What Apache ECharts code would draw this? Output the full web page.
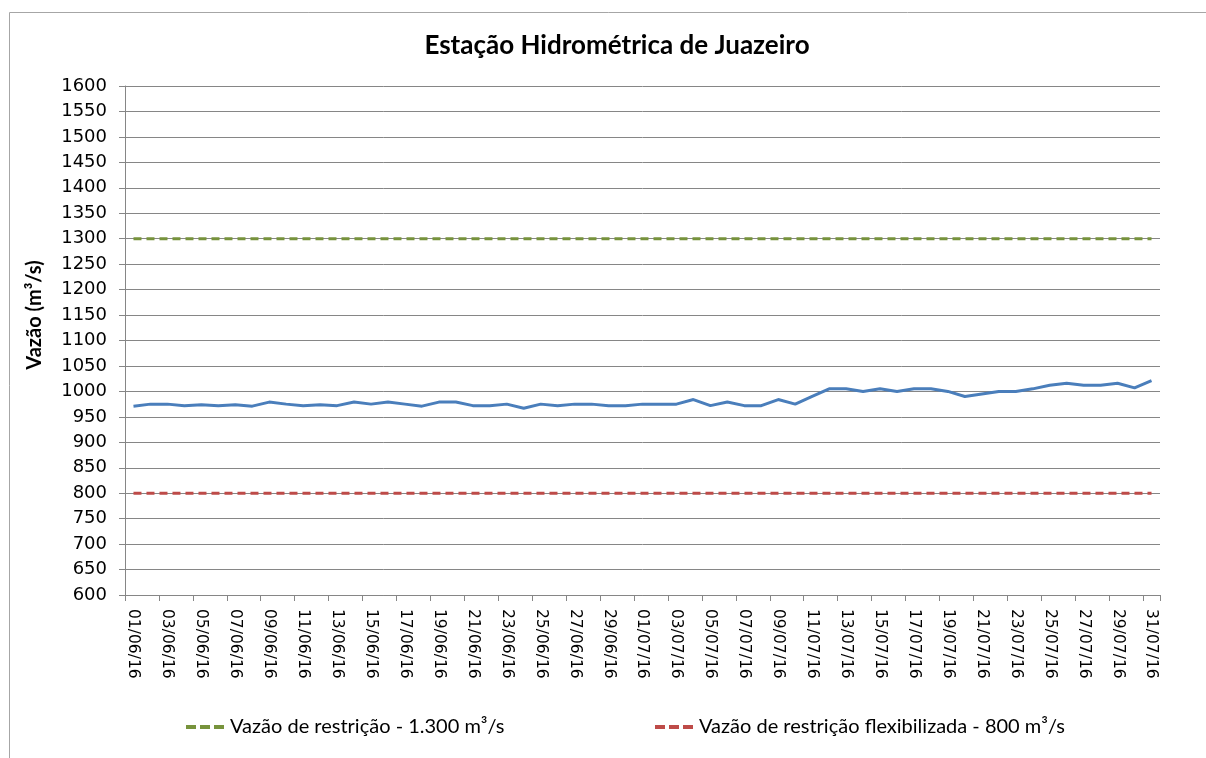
<!DOCTYPE html>
<html>
<head>
<meta charset="utf-8">
<script src="https://cdn.jsdelivr.net/npm/echarts@6/dist/echarts.min.js"></script>
<style>
html,body{margin:0;padding:0;background:#fff;}
#c{width:1206px;height:758px;}
</style>
</head>
<body>
<div id="c"></div>
<script>
var categories = ['01/06/16','02/06/16','03/06/16','04/06/16','05/06/16','06/06/16','07/06/16','08/06/16','09/06/16','10/06/16',
'11/06/16','12/06/16','13/06/16','14/06/16','15/06/16','16/06/16','17/06/16','18/06/16','19/06/16','20/06/16',
'21/06/16','22/06/16','23/06/16','24/06/16','25/06/16','26/06/16','27/06/16','28/06/16','29/06/16','30/06/16',
'01/07/16','02/07/16','03/07/16','04/07/16','05/07/16','06/07/16','07/07/16','08/07/16','09/07/16','10/07/16',
'11/07/16','12/07/16','13/07/16','14/07/16','15/07/16','16/07/16','17/07/16','18/07/16','19/07/16','20/07/16',
'21/07/16','22/07/16','23/07/16','24/07/16','25/07/16','26/07/16','27/07/16','28/07/16','29/07/16','30/07/16','31/07/16'];

var vazao = [971,975,975,972,974,972,974,971,979,975,
972,974,972,979,975,979,975,971,979,979,
972,972,975,967,975,972,975,975,972,972,
975,975,975,984,972,979,972,972,984,975,
990,1005,1005,1000,1005,1000,1005,1005,1000,990,
995,1000,1000,1005,1012,1016,1012,1012,1016,1007,1021];

var restricao = categories.map(function(){return 1300;});
var restricaoFlex = categories.map(function(){return 800;});

var nameRestricao = 'Vazão de restrição - 1.300 m³/s';
var nameFlex = 'Vazão de restrição flexibilizada - 800 m³/s';
var titleText = 'Estação Hidrométrica de Juazeiro';
var yName = 'Vazão (m³/s)';

var dashIcon = 'path://M0,0h10v4h-10z M14,0h10v4h-10z M28,0h10v4h-10z';

var chart = echarts.init(document.getElementById('c'));
chart.setOption({
  animation:false,
  backgroundColor:'#fff',
  title:{text:titleText,left:612,textAlign:'center',top:28,
    textStyle:{fontFamily:'Lato',fontWeight:'bold',fontSize:26,color:'#000'}},
  graphic:[
    {type:'rect',shape:{x:9.5,y:12.5,width:1250,height:800},style:{fill:'none',stroke:'#a6a6a6',lineWidth:1},silent:true,z:-1},
    {type:'text',x:35,y:315,rotation:Math.PI/2,
      style:{text:yName,fontFamily:'Lato',fontWeight:'bold',fontSize:20,fill:'#000',textAlign:'center',textVerticalAlign:'middle'}}
  ],
  legend:[
    {data:[{name:nameRestricao,icon:dashIcon}],left:181,top:712,itemWidth:40,itemHeight:4,itemGap:6,
      textStyle:{fontFamily:'Lato',fontSize:20,color:'#000'}},
    {data:[{name:nameFlex,icon:dashIcon}],left:650,top:712,itemWidth:40,itemHeight:4,itemGap:6,
      textStyle:{fontFamily:'Lato',fontSize:20,color:'#000'}}
  ],
  grid:{left:125,right:46,top:86,bottom:163,containLabel:false},
  xAxis:{type:'category',data:categories,boundaryGap:true,
    axisLine:{lineStyle:{color:'#868686',width:1}},
    axisTick:{show:true,interval:1,length:6,lineStyle:{color:'#868686'}},
    axisLabel:{interval:1,rotate:-90,margin:14,fontFamily:'DejaVu Sans',fontSize:15.5,color:'#000'}},
  yAxis:{type:'value',min:600,max:1600,interval:50,
    axisLine:{show:true,lineStyle:{color:'#868686',width:1}},
    axisTick:{show:true,length:6,lineStyle:{color:'#868686'}},
    splitLine:{lineStyle:{color:'#868686',width:1}},
    axisLabel:{margin:18,fontFamily:'DejaVu Sans',fontSize:18,color:'#000',formatter:function(v){return String(v);}}},
  series:[
    {name:'Vazão',type:'line',data:vazao,showSymbol:false,symbol:'none',
      lineStyle:{color:'#4A7EBB',width:3},itemStyle:{color:'#4A7EBB'},z:3},
    {name:nameRestricao,type:'line',data:restricao,showSymbol:false,symbol:'none',
      lineStyle:{color:'#77933C',width:3,type:[8,5]},itemStyle:{color:'#77933C'},z:2},
    {name:nameFlex,type:'line',data:restricaoFlex,showSymbol:false,symbol:'none',
      lineStyle:{color:'#BE4B48',width:3,type:[8,5]},itemStyle:{color:'#BE4B48'},z:2}
  ]
});
</script>
</body>
</html>
